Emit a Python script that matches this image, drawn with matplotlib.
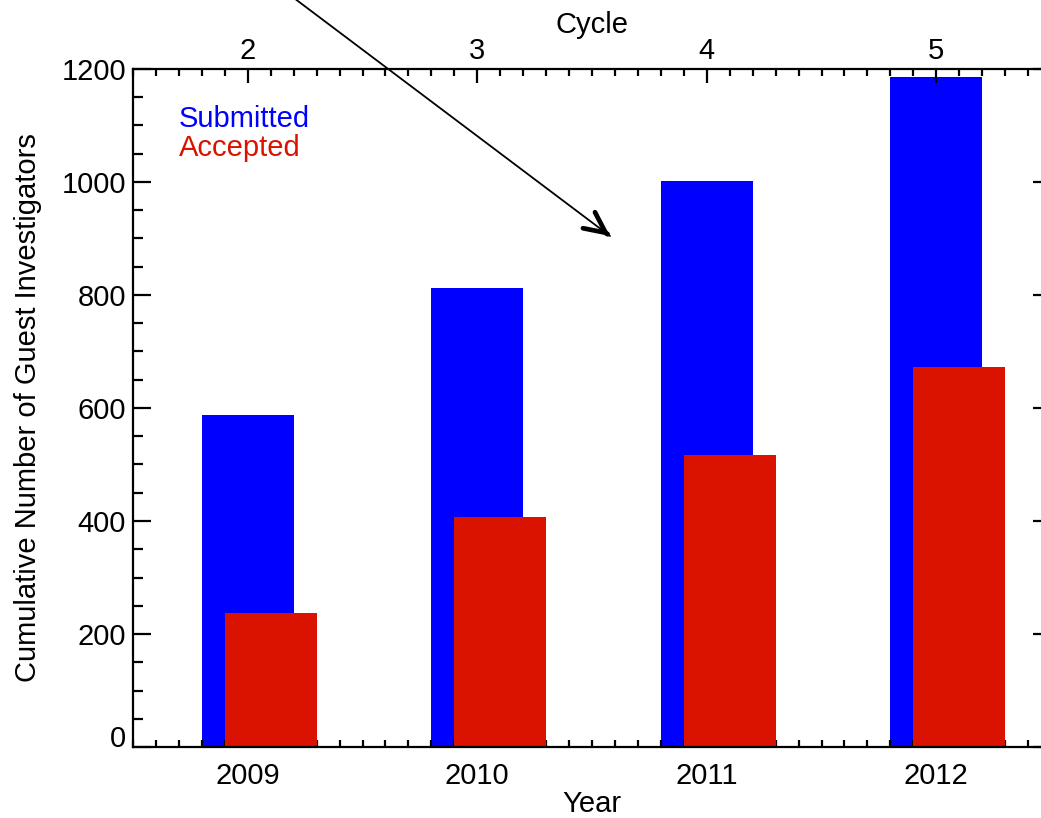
import matplotlib.pyplot as plt
from matplotlib.ticker import MultipleLocator

plt.rcParams['font.family'] = ['Liberation Sans', 'DejaVu Sans']

# data
years = [2009, 2010, 2011, 2012]
cycles = ['2', '3', '4', '5']
submitted = [588, 812, 1001, 1185]
accepted = [237, 407, 517, 673]

blue = '#0000FF'
red = '#D91300'
fs = 21

fig = plt.figure(figsize=(10.41, 8.18), dpi=100)
ax = fig.add_axes([133/1041, 71/818, (1051-133)/1041, (747-69)/818])

ax.bar(years, submitted, width=0.4, color=blue, zorder=1)
ax.bar([y + 0.1 for y in years], accepted, width=0.4, color=red, zorder=2)

ax.set_xlim(2008.5, 2012.5)
ax.set_ylim(0, 1200)
ax.set_xticks(years)
ax.set_xticklabels([str(y) for y in years])
ax.set_yticks(range(0, 1201, 200))
ax.xaxis.set_minor_locator(MultipleLocator(0.1))
ax.yaxis.set_minor_locator(MultipleLocator(50))

for s in ax.spines.values():
    s.set_linewidth(1.6)

ax.tick_params(axis='x', which='major', direction='in', length=10, width=1.6,
               top=True, labelsize=fs, pad=11)
ax.tick_params(axis='x', which='minor', direction='in', length=5, width=1.6, top=True)
ax.tick_params(axis='y', which='major', direction='in', length=13, width=1.6,
               right=True, labelsize=fs, pad=5)
ax.tick_params(axis='y', which='minor', direction='in', length=7, width=1.6, right=True)

ax.set_xlabel('Year', fontsize=fs, labelpad=0)
ax.set_ylabel('Cumulative Number of Guest Investigators', fontsize=fs, labelpad=14)

# top axis: cycle number
top = ax.secondary_xaxis('top')
top.set_xticks(years)
top.set_xticklabels(cycles)
top.tick_params(axis='x', which='both', length=0, labelsize=fs, pad=3)
top.spines['top'].set_visible(False)
top.set_xlabel('Cycle', fontsize=fs, labelpad=3)

# the 0 label sits on the axis line
for lab in ax.get_yticklabels():
    if lab.get_text() == '0':
        lab.set_verticalalignment('baseline')

ax.text(179/1041, 1 - 119/818, 'Submitted', color=blue, fontsize=fs,
        transform=fig.transFigure, va='center', ha='left')
ax.text(179/1041, 1 - 148/818, 'Accepted', color=red, fontsize=fs,
        transform=fig.transFigure, va='center', ha='left')

# arrow coming from outside the figure
tip = (610/1041, 1 - 236/818)
start = (270/1041, 1 + 20/818)
back = ((610 - 2.4)/1041, 1 - (236 - 1.8)/818)
ax.annotate('', xy=tip, xycoords='figure fraction', xytext=start,
            textcoords='figure fraction', annotation_clip=False,
            arrowprops=dict(arrowstyle='-', lw=1.3, color='black',
                            shrinkA=0, shrinkB=0))
ax.annotate('', xy=tip, xycoords='figure fraction', xytext=back,
            textcoords='figure fraction', annotation_clip=False,
            arrowprops=dict(arrowstyle='->,head_length=0.5,head_width=0.24',
                            mutation_scale=30, lw=3.4, color='black',
                            shrinkA=0, shrinkB=0, capstyle='round',
                            joinstyle='round'))

fig.savefig('out.png', dpi=100)
